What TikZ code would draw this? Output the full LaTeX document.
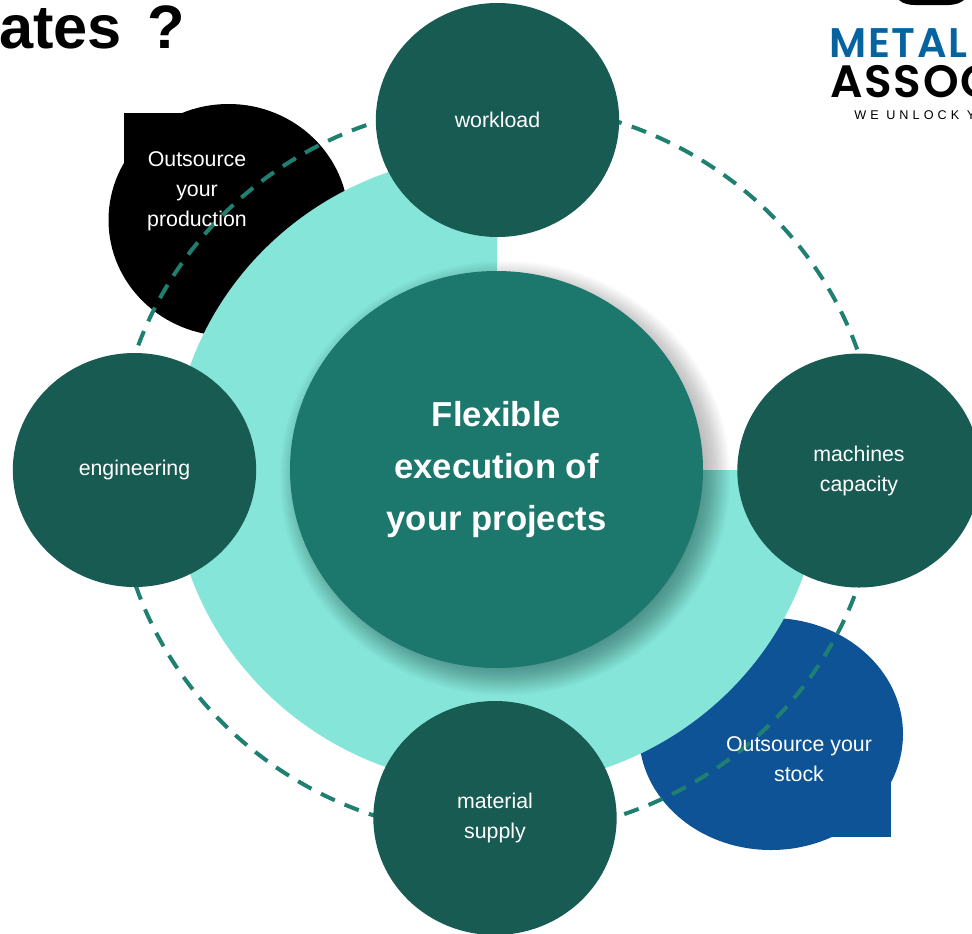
\documentclass[tikz,border=0pt]{standalone}
\usepackage{fontspec}
\setmainfont{Liberation Sans}
\newfontfamily\logofont[BoldFont={Poppins SemiBold},LetterSpace=4]{Poppins}
\newfontfamily\tagfont[LetterSpace=32]{Liberation Sans}
\definecolor{sat}{HTML}{175B53}
\definecolor{hub}{HTML}{1C776C}
\definecolor{ringc}{HTML}{85E5D9}
\definecolor{dashc}{HTML}{1F8072}
\definecolor{bluec}{HTML}{0D5396}
\definecolor{logob}{HTML}{05639F}
\usetikzlibrary{shapes.geometric}
\tikzset{
  x=0.75pt,y=-0.75pt,
  satnode/.style={ellipse,fill=sat,minimum width=182.5pt,minimum height=175.5pt,inner sep=0pt},
  sattext/.style={text=white,font=\fontsize{16}{22.5}\selectfont,align=center},
  blobtext/.style={text=white,font=\fontsize{16}{22.5}\selectfont,align=center},
  halo/.style={dashc,line width=3pt,dash pattern=on 11.5pt off 8pt}
}
\begin{document}
\begin{tikzpicture}
\useasboundingbox (0,0) rectangle (972,933);
\clip (0,0) rectangle (972,933);
% title
\node[anchor=base west,inner sep=0pt,font=\bfseries\fontsize{46}{46}\selectfont] (title) at (-1,48) {ates\kern6pt{} ?};
% logo
\fill[black] (899,-10) -- (899,0) .. controls (903,4) and (910,5) .. (915,5) -- (948,5) .. controls (955,5) and (962,3) .. (966,-2) -- (966,-10) -- cycle;
\node[anchor=base west,inner sep=0pt,text=logob,font=\logofont\bfseries\fontsize{31}{31}\selectfont] (logoa) at (829,57) {METAL};
\node[anchor=base west,inner sep=0pt,text=black,font=\logofont\bfseries\fontsize{34}{34}\selectfont] (logob) at (830,97) {ASSOC};
\node[anchor=base west,inner sep=0pt,text=black,font=\tagfont\fontsize{9.5}{10}\selectfont] (logoc) at (854,119) {WE UNLOCK Y};
% blobs
\fill[black] (228.5,220) ellipse [x radius=120,y radius=116];
\fill[black] (124,113) rectangle (190,170);
\fill[bluec] (771,734) ellipse [x radius=132,y radius=116];
\fill[bluec] (891,837) rectangle (832,775);
% ring
\fill[ringc] (497,470) -- (497,154) arc [start angle=-90,delta angle=-270,x radius=325,y radius=316] -- cycle;
% dashed orbit
\draw[halo] (497,469) ellipse [x radius=381,y radius=366];
% shadow
\foreach \i in {0,...,39}{
  \pgfmathsetmacro{\rr}{19-1.0*\i}
  \fill[black,opacity=0.013] (505,478) ellipse [x radius=206.5+\rr,y radius=198.5+\rr];
}
% hub and satellites
\node[ellipse,fill=hub,minimum width=309.75pt,minimum height=297.75pt,inner sep=0pt] (hubn) at (496.5,469.5) {};
\node[text=white,font=\bfseries\fontsize{26}{39}\selectfont,align=center] (hubt) at (496.5,470) {Flexible\\execution of\\your projects};
\node[satnode] (work) at (497.5,120) {};
\node[sattext] at (work) {workload};
\node[satnode] (eng) at (134.5,470) {};
\node[sattext] at (eng) {engineering};
\node[satnode] (mach) at (859,470.5) {};
\node[sattext] at (mach) {machines\\capacity};
\node[satnode] (supp) at (495,818) {};
\node[sattext] at (supp) {material\\supply};
\node[blobtext] (bl1) at (197,191.5) {Outsource\\your\\production};
\node[blobtext] (bl2) at (799,759) {Outsource your\\stock};
\end{tikzpicture}
\end{document}
